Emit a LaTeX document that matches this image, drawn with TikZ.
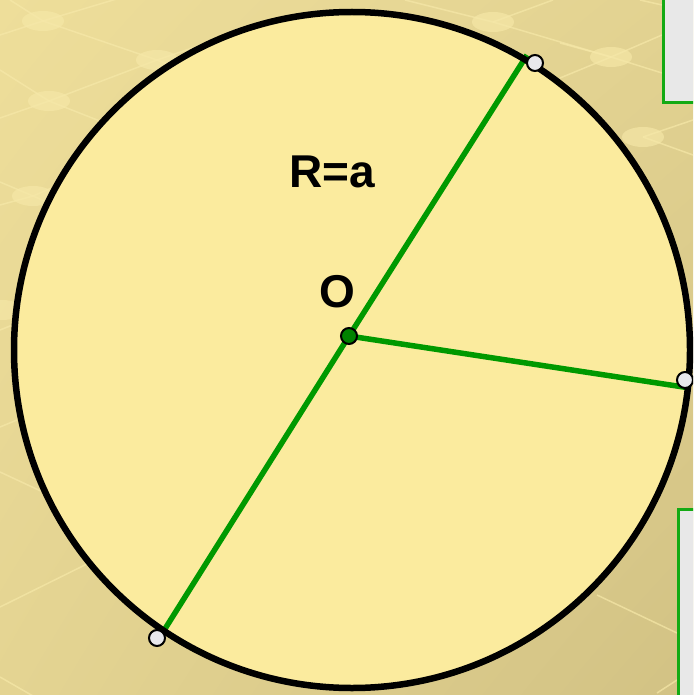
\documentclass[tikz,border=0pt]{standalone}
\usepackage{fontspec}
\setmainfont{Liberation Sans}
\usetikzlibrary{shadings}
\definecolor{bgA}{RGB}{238,222,154}
\definecolor{bgB}{RGB}{226,210,145}
\definecolor{bgC}{RGB}{228,212,146}
\definecolor{bgD}{RGB}{210,194,132}
\definecolor{discfill}{RGB}{251,235,158}
\definecolor{gline}{RGB}{0,153,0}
\definecolor{ptfill}{RGB}{232,232,236}
\definecolor{boxfill}{RGB}{232,232,232}
\definecolor{boxline}{RGB}{20,170,20}
\definecolor{patt}{RGB}{246,232,168}
\tikzset{
  pline/.style={draw=patt,line width=1.5pt,opacity=0.7},
  pell/.style={fill=patt,opacity=0.65},
  greenseg/.style={draw=gline,line width=5.5pt},
  ptnode/.style={circle,draw=black,line width=2pt,fill=ptfill,minimum size=16pt,inner sep=0pt},
  cnode/.style={circle,draw=black,line width=2pt,fill=gline!85!black,minimum size=16pt,inner sep=0pt},
  lbl/.style={font=\fontsize{46}{54}\selectfont\bfseries,inner sep=0pt,anchor=base west},
  sidebox/.style={draw=boxline,line width=3pt,fill=boxfill}
}
\begin{document}
\begin{tikzpicture}[x=1pt,y=-1pt]
\useasboundingbox (0,0) rectangle (693,695);
\begin{scope}
\clip (0,0) rectangle (693,695);
% background
\shade[upper left=bgA,upper right=bgB,lower left=bgC,lower right=bgD] (0,0) rectangle (693,695);
% faint lattice pattern
\draw[pline] (0,35) -- (43,21) -- (130,-5);
\draw[pline] (10,0) -- (43,21) -- (157,60) -- (260,100);
\draw[pline] (157,60) -- (49,101) -- (0,118);
\draw[pline] (157,60) -- (260,25);
\draw[pline] (0,70) -- (49,101) -- (110,125);
\draw[pline] (0,182) -- (33,196) -- (70,212);
\draw[pline] (0,205) -- (33,196) -- (70,180);
\draw[pline] (0,330) -- (30,318);
\draw[pline] (0,427) -- (17,420);
\draw[pline] (0,472) -- (60,500);
\draw[pline] (0,607) -- (95,560);
\draw[pline] (0,677) -- (40,700);
\draw[pline] (405,0) -- (493,22) -- (553,0);
\draw[pline] (493,22) -- (611,57) -- (662,35);
\draw[pline] (560,43) -- (611,57) -- (662,73);
\draw[pline] (611,57) -- (560,78);
\draw[pline] (640,0) -- (662,5);
\draw[pline] (643,137) -- (693,120);
\draw[pline] (643,137) -- (693,155);
\draw[pline] (597,595) -- (677,633);
\draw[pline] (657,693) -- (677,680);
\fill[pell] (43,21) ellipse (21pt and 10pt);
\fill[pell] (157,60) ellipse (21pt and 10pt);
\fill[pell] (49,101) ellipse (21pt and 10pt);
\fill[pell] (33,196) ellipse (21pt and 10pt);
\fill[pell] (2,310) ellipse (21pt and 10pt);
\fill[pell] (493,22) ellipse (21pt and 10pt);
\fill[pell] (611,57) ellipse (21pt and 10pt);
\fill[pell] (643,137) ellipse (21pt and 10pt);
% side boxes
\draw[sidebox] (663,-10) rectangle (710,103);
\draw[sidebox] (678,509) rectangle (710,710);
% disc
\fill[discfill] (352,350) circle (338pt);
% radii
\coordinate (E1) at (527,55);
\coordinate (E2) at (163,632);
\coordinate (E3) at (690,388);
\coordinate (Oc) at (349,336);
\draw[greenseg] (E1) -- (Oc) -- (E2);
\draw[greenseg] (Oc) -- (E3);
% circle border
\draw[black,line width=6.5pt] (352,350) circle (338pt);
% points
\node[ptnode] (A) at (535,63) {};
\node[ptnode] (B) at (157,638) {};
\node[ptnode] (C) at (685,380) {};
\node[cnode] (O) at (Oc) {};
% labels
\node[lbl] (Rlabel) at (289,187) {R=a};
\node[lbl] (Olabel) at (319,307) {O};
\end{scope}
\end{tikzpicture}
\end{document}
